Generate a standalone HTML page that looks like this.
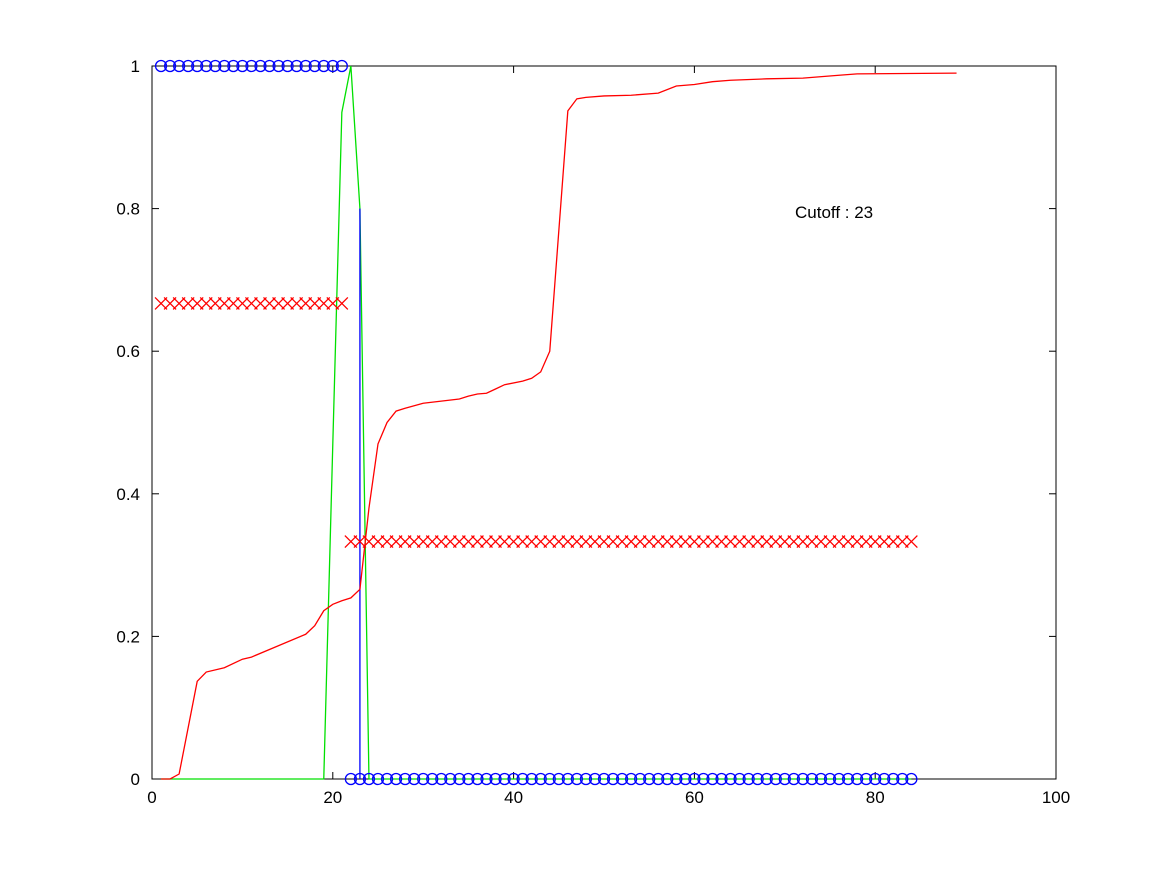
<!DOCTYPE html>
<html><head><meta charset="utf-8"><style>body{margin:0;background:#fff}svg{display:block}text{font-family:"Liberation Sans",sans-serif;font-size:17px;fill:#000}</style></head>
<body>
<svg id="chart" width="1167" height="875" viewBox="0 0 1167 875" xmlns="http://www.w3.org/2000/svg"></svg>
<script>
const xTicks=[0,20,40,60,80,100];
const yTicks=[0,0.2,0.4,0.6,0.8,1];
const yTickLabels=["0","0.2","0.4","0.6","0.8","1"];
const redX=[1,2,3,5,6,8,10,11,17,18,19,20,21,22,23,24,25,26,27,28,30,34,35,36,37,38,39,41,42,43,44,46,47,48,50,53,56,58,60,62,64,68,72,76,78,89];
const redY=[0,0,0.007,0.137,0.15,0.156,0.168,0.171,0.203,0.215,0.236,0.245,0.25,0.254,0.266,0.38,0.47,0.5,0.516,0.52,0.527,0.533,0.537,0.54,0.541,0.547,0.553,0.558,0.562,0.571,0.6,0.937,0.954,0.956,0.958,0.959,0.962,0.972,0.974,0.978,0.98,0.982,0.983,0.987,0.989,0.99];
const greenX=[1,19,20,21,22,23,24,84];
const greenY=[0,0,0.47,0.935,1,0.8,0,0];
const cutoff=23, cutoffTop=0.8;
const class1Start=1, class1End=21, class1Circle=1, class1Cross=0.667;
const class2Start=22, class2End=84, class2Circle=0, class2Cross=0.333;
const L=152,R=1056,T=66,B=779;
const sx=v=>L+(v-0)/(100-0)*(R-L);
const sy=v=>B-(v-0)/(1-0)*(B-T);
const svg=document.getElementById('chart');
const NS='http://www.w3.org/2000/svg';
function mk(tag,attrs){const e=document.createElementNS(NS,tag);for(const k in attrs)e.setAttribute(k,attrs[k]);svg.appendChild(e);return e;}
let e=mk('rect',{x:L,y:T,width:R-L,height:B-T,fill:'none',stroke:'#000','stroke-width':1});


xTicks.forEach((t)=>{
 let a=mk('line',{x1:sx(t),x2:sx(t),y1:B,y2:B-7,stroke:'#000'});
 
 
 let b=mk('line',{x1:sx(t),x2:sx(t),y1:T,y2:T+7,stroke:'#000'});
 
 
 let tx=mk('text',{x:sx(t),y:B+24,'text-anchor':'middle'});tx.textContent=String(t);
 
 
});
yTicks.forEach((t,i)=>{
 let a=mk('line',{x1:L,x2:L+7,y1:sy(t),y2:sy(t),stroke:'#000'});
 
 
 let b=mk('line',{x1:R,x2:R-7,y1:sy(t),y2:sy(t),stroke:'#000'});
 
 
 let tx=mk('text',{x:L-12,y:sy(t)+6,'text-anchor':'end'});tx.textContent=yTickLabels[i];
 
 
});
function poly(xs,ys,color,name){
 const p=mk('polyline',{points:xs.map((x,i)=>sx(x)+','+sy(ys[i])).join(' '),fill:'none',stroke:color,'stroke-width':1.3});
 
 
}
poly(greenX,greenY,'#00e000','green-line');
const bl=mk('line',{x1:sx(cutoff),x2:sx(cutoff),y1:sy(cutoffTop),y2:sy(0),stroke:'#0000ff','stroke-width':1.3});


poly(redX,redY,'#ff0000','red-curve');
function cross(x,y){
 const cx=sx(x),cy=sy(y),s=6;
 const p=mk('path',{d:`M${cx-s},${cy-s}L${cx+s},${cy+s}M${cx-s},${cy+s}L${cx+s},${cy-s}`,stroke:'#ff0000','stroke-width':1.3,fill:'none'});
 
 
}
function circ(x,y){
 const c=mk('circle',{cx:sx(x),cy:sy(y),r:5.5,fill:'none',stroke:'#0000ff','stroke-width':1.3});
 
 
}
for(let i=class1Start;i<=class1End;i++){cross(i,class1Cross);circ(i,class1Circle);}
for(let i=class2Start;i<=class2End;i++){cross(i,class2Cross);circ(i,class2Circle);}
const lab=mk('text',{x:795,y:218});lab.textContent='Cutoff : 23';


</script>
</body></html>
